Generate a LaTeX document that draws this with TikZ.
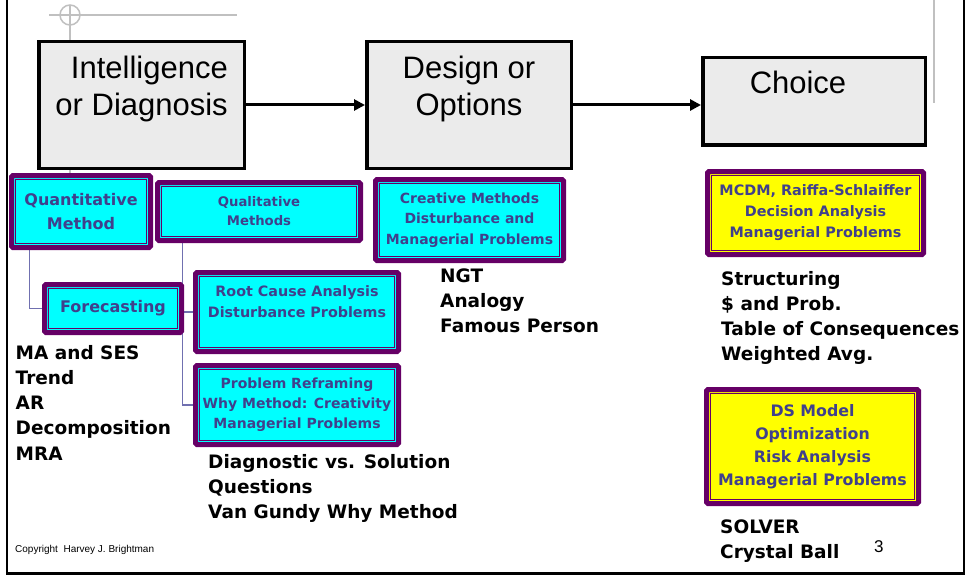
\documentclass[tikz,border=0pt]{standalone}
\usepackage{fontspec}
\setmainfont{DejaVu Sans}
\newfontfamily\titlefont{Liberation Sans}
\usetikzlibrary{arrows.meta,backgrounds}

\definecolor{stagegray}{HTML}{EBEBEB}
\definecolor{mpurple}{HTML}{660066}
\definecolor{mcyan}{HTML}{00FFFF}
\definecolor{myellow}{HTML}{FFFF00}
\definecolor{mtext}{HTML}{40408C}
\definecolor{linkcol}{HTML}{7070B0}
\definecolor{decorgray}{HTML}{C0C0C0}

\tikzset{
  stage/.style={rectangle, draw=black, line width=3.5pt, fill=stagegray, inner sep=0pt},
  stagetitle/.style={inner sep=0pt, font=\titlefont\fontsize{31}{37}\selectfont},
  flow/.style={line width=3pt, -{Triangle[length=11pt,width=11pt]}},
  methbox/.style={rectangle, rounded corners=1.5pt, draw=mpurple, line width=5pt,
    inner sep=0pt, outer sep=0pt, text=mtext, align=center},
  methline/.style={draw=mpurple, line width=0.8pt},
  link/.style={draw=linkcol, line width=1.2pt},
  toollist/.style={anchor=north west, inner sep=0pt, align=left,
    font=\bfseries\fontsize{18.5}{25.2}\selectfont},
  decor/.style={draw=decorgray, line width=1.5pt},
  frame/.style={draw=black, line width=2.5pt}
}

% name, fill, x1, y1, x2, y2, font size, line skip, text
\newcommand\MethodBox[9]{%
  \node[methbox, fill=#2, minimum width={#5-#3-5}, minimum height={#6-#4-5},
        font=\bfseries\fontsize{#7}{#8}\selectfont]
        (#1) at ({(#3+#5)/2},{(#4+#6)/2}) {#9};
  \draw[methline] ([shift={(4pt,4pt)}]#1.south west) rectangle ([shift={(-4pt,-4pt)}]#1.north east);
}

\begin{document}
\begin{tikzpicture}[x=1pt,y=-1pt]
\useasboundingbox (0,0) rectangle (966,575);

% light construction marks
\draw[decor] (49,15) -- (237,15);
\draw[decor] (70,5) -- (70,178);
\draw[decor] (70,15) circle (10);
\draw[decor] (934,0) -- (934,103);

% page frame
\draw[frame] (7,0) -- (7,573.5) -- (964,573.5) -- (964,0);

% the three stages
\node[stage, minimum width=205.5, minimum height=126.5] (intel) at (141.5,105) {};
\node[stage, minimum width=204.5, minimum height=126.5] (design) at (469,105) {};
\node[stage, minimum width=222.5, minimum height=87.5] (choice) at (814,101.5) {};

\node[stagetitle, anchor=north east, align=right] (intel-t) at (228,55.5) {Intelligence\\or Diagnosis};
\node[stagetitle, anchor=north, align=center] (design-t) at (469,56) {Design or\\Options};
\node[stagetitle, anchor=north] (choice-t) at (798,71) {Choice};

\draw[flow] (intel.east) -- (design.west);
\draw[flow] (design.east) -- (design.east -| choice.west);

% method boxes
\MethodBox{quant}{mcyan}{9}{173}{153}{250}{16}{24}{Quantitative\\Method}
\MethodBox{qual}{mcyan}{155}{180}{363}{243}{13.2}{19}{Qualitative\\Methods}
\MethodBox{fore}{mcyan}{42}{282}{184}{335}{16}{24}{Forecasting}
\MethodBox{root}{mcyan}{193}{270}{401}{354}{14.3}{20.5}{Root Cause Analysis\\Disturbance Problems\\\mbox{}}
\MethodBox{refr}{mcyan}{193}{363}{401}{447}{14}{20}{Problem Reframing\\Why Method: Creativity\\Managerial Problems}
\MethodBox{creat}{mcyan}{373}{177}{566}{263}{14}{20.5}{Creative Methods\\Disturbance and\\Managerial Problems}
\MethodBox{mcdm}{myellow}{705}{169}{926}{257}{14.4}{21}{MCDM, Raiffa-Schlaiffer\\Decision Analysis\\Managerial Problems}
\MethodBox{dsm}{myellow}{704}{387}{921}{506}{15.8}{23}{DS Model\\Optimization\\Risk Analysis\\Managerial Problems}

% tree links under the diagnosis methods, kept behind the boxes
\begin{pgfonlayer}{background}
\draw[link] ([xshift=18pt]quant.south west) |- (fore.west);
\draw[link] ([xshift=25pt]qual.south west) |- (refr.west);
\draw[link] ([xshift=25pt]qual.south west) |- (root.west);
\end{pgfonlayer}

% tool lists
\node[toollist] (quant-l) at (15.5,345) {MA and SES\\Trend\\AR\\Decomposition\\MRA};
\node[toollist] (refr-l) at (208,454) {Diagnostic vs. Solution\\Questions\\Van Gundy Why Method};
\node[toollist] (creat-l) at (440,268.5) {NGT\\Analogy\\Famous Person};
\node[toollist] (mcdm-l) at (721,271) {Structuring\\\$ and Prob.\\Table of Consequences\\Weighted Avg.};
\node[toollist] (dsm-l) at (720,519.5) {SOLVER\\Crystal Ball};

% footer
\node[anchor=base west, inner sep=0pt, font=\titlefont\fontsize{10}{12}\selectfont] (copy) at (15,552) {Copyright\ \ Harvey J. Brightman};
\node[anchor=base west, inner sep=0pt, font=\titlefont\fontsize{17}{20}\selectfont] (pageno) at (874,552) {3};
\end{tikzpicture}
\end{document}
